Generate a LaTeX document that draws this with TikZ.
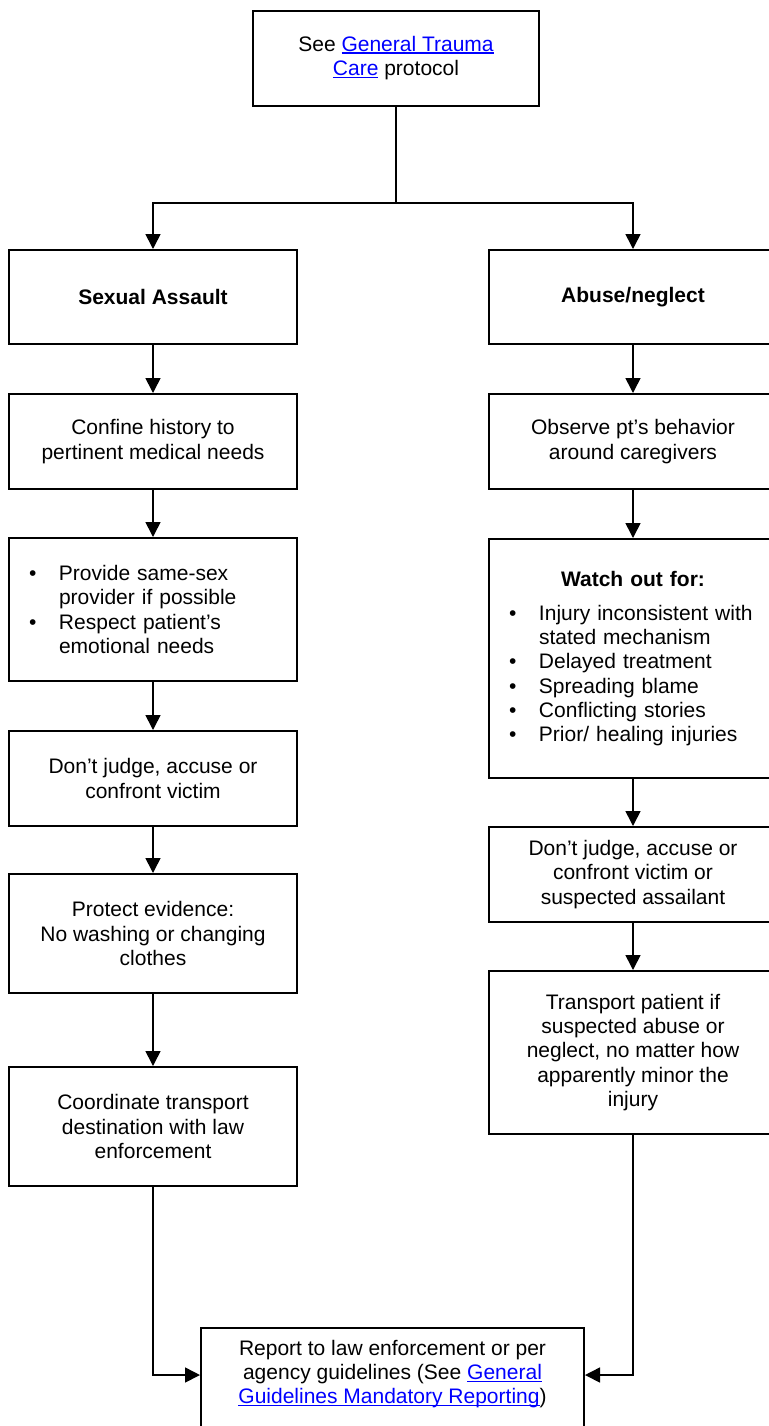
\documentclass[tikz,border=0pt]{standalone}
\usepackage{fontspec}
\setmainfont{Liberation Sans}
\usepackage{xcolor}
\usetikzlibrary{arrows.meta, positioning}

\newcommand{\lnk}[1]{\leavevmode\textcolor{blue}{\sbox0{#1}\rlap{\rule[-1.3pt]{\wd0}{0.7pt}}\usebox0}}
\newcommand{\bul}{\makebox[15pt][l]{\textbullet}}
\newcommand{\ind}{\hspace*{15pt}}

\begin{document}
\begin{tikzpicture}[
    x=0.5pt, y=-0.5pt,
    box/.style={draw, rectangle, line width=1pt, minimum width=144pt, align=center, inner sep=2pt, font=\fontsize{10.5}{12.15}\selectfont},
    lst/.style={box, align=left, text width=124pt, inner xsep=10pt},
    arr/.style={-{Triangle[width=7.5pt, length=7.5pt]}, line width=0.8pt},
    link/.style={line width=0.8pt}
  ]
  \useasboundingbox (0,0) rectangle (769,1426);
  \clip (0,0) rectangle (769,1426);

  % Start
  \node[box, minimum width=143pt, minimum height=47.5pt] (top) at (396,58) {See \lnk{General Trauma}\\\lnk{Care} protocol};

  % Sexual assault
  \node[box, minimum height=47pt] (sa) at (153,297) {\textbf{Sexual Assault}};
  \node[box, minimum height=47.5pt] (l1) at (153,441.5) {Confine history to\\pertinent medical needs};
  \node[lst, minimum height=71.5pt] (l2) at (153,609.5) {\bul Provide same-sex\\\ind provider if possible\\\bul Respect patient’s\\\ind emotional needs};
  \node[box, minimum height=47.5pt] (l3) at (153,778.5) {Don’t judge, accuse or\\confront victim};
  \node[box, minimum height=59.5pt] (l4) at (153,933.5) {Protect evidence:\\No washing or changing\\clothes};
  \node[box, minimum height=59.5pt] (l5) at (153,1126.5) {Coordinate transport\\destination with law\\enforcement};

  % Abuse / neglect
  \node[box, minimum height=47pt] (ab) at (633,297) {\textbf{Abuse/neglect}};
  \node[box, minimum height=47.5pt] (r1) at (633,441.5) {Observe pt’s behavior\\around caregivers};
  \node[lst, minimum height=119.5pt] (r2) at (633,658.5) {\makebox[\linewidth][c]{\textbf{Watch out for:}}\\[5pt]\bul Injury inconsistent with\\\ind stated mechanism\\\bul Delayed treatment\\\bul Spreading blame\\\bul Conflicting stories\\\bul Prior/ healing injuries};
  \node[box, minimum height=47.5pt] (r3) at (633,874.5) {Don’t judge, accuse or\\confront victim or\\suspected assailant};
  \node[box, minimum height=81.5pt] (r4) at (633,1052.5) {Transport patient if\\suspected abuse or\\neglect, no matter how\\apparently minor the\\injury};

  % Report
  \node[box, anchor=north, minimum width=191.5pt, inner ysep=6pt, text depth=30pt] (rep) at (392.5,1327) {Report to law enforcement or per\\agency guidelines (See \lnk{General}\\\lnk{Guidelines Mandatory Reporting})};

  % Connectors
  \coordinate (jn) at (396,203);
  \draw[link] (top) -- (jn);
  \draw[arr] (jn) -| (sa);
  \draw[arr] (jn) -| (ab);
  \foreach \a/\b in {sa/l1, l1/l2, l2/l3, l3/l4, l4/l5, ab/r1, r1/r2, r2/r3, r3/r4}
    \draw[arr] (\a) -- (\b);
  \draw[arr] (l5) |- ([yshift=-24pt]rep.north west);
  \draw[arr] (r4) |- ([yshift=-24pt]rep.north east);
\end{tikzpicture}
\end{document}
